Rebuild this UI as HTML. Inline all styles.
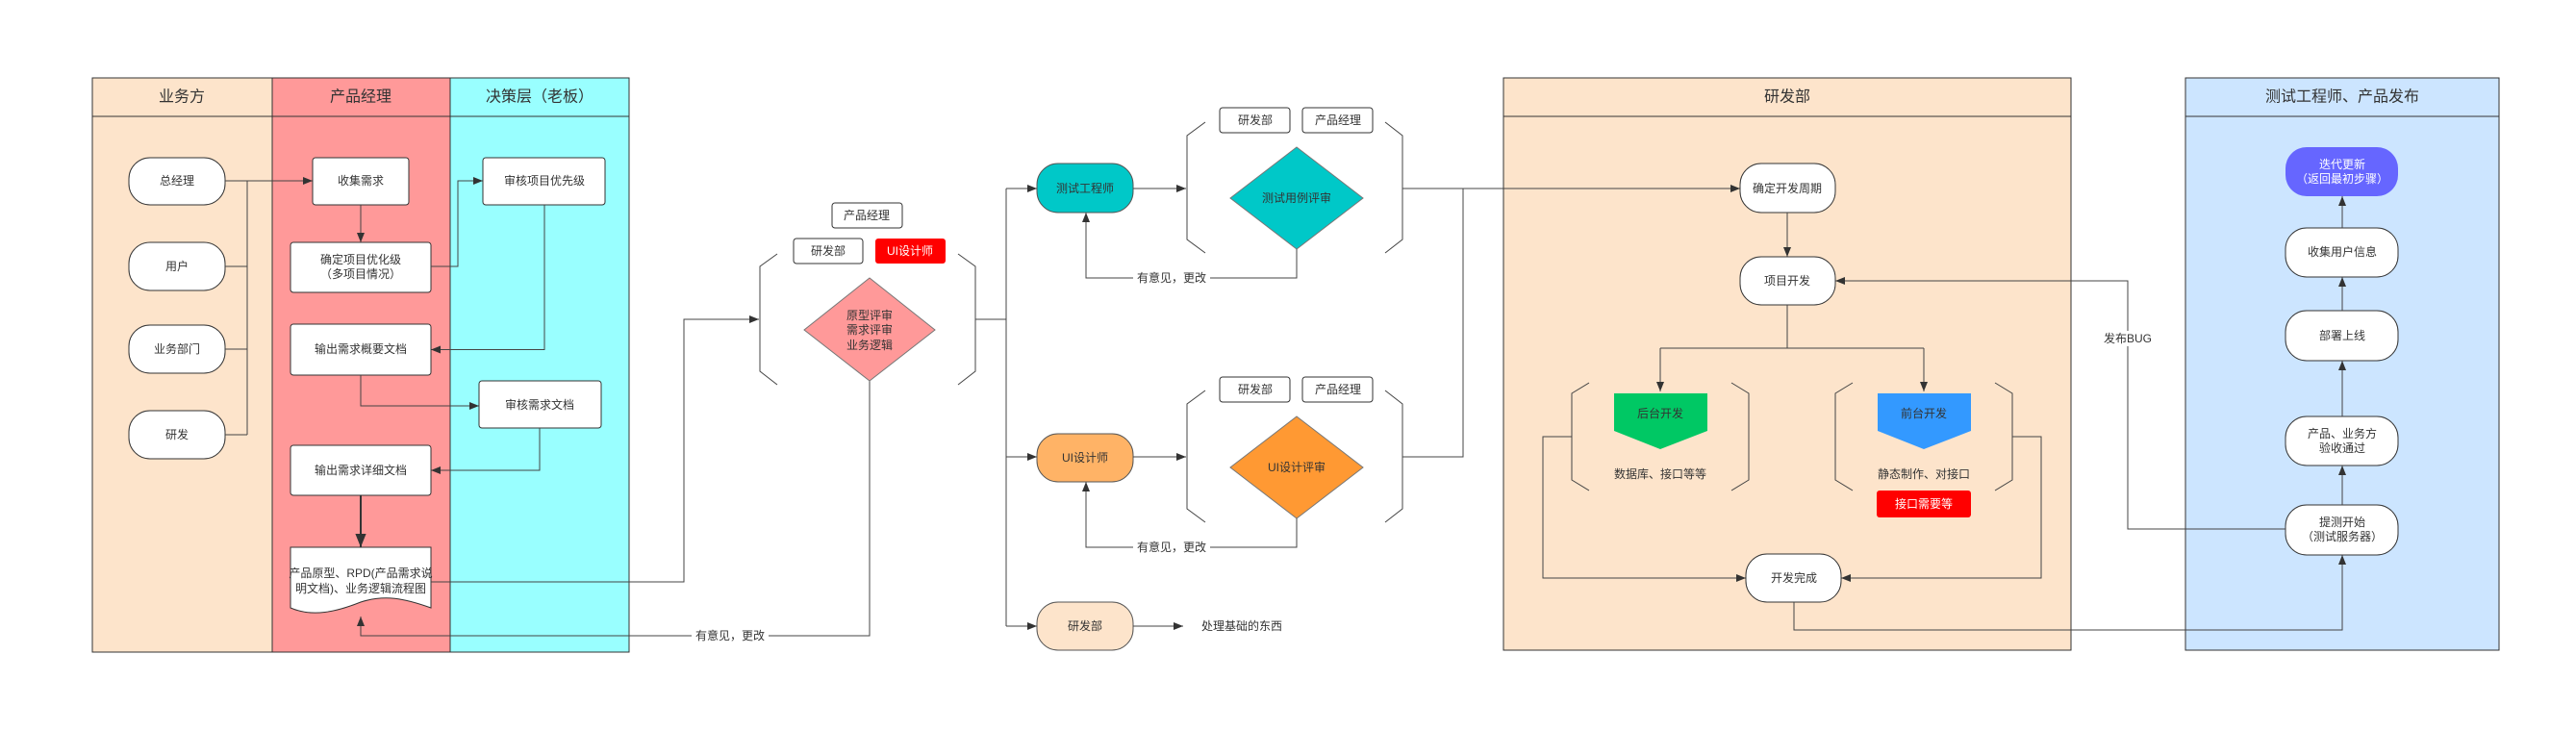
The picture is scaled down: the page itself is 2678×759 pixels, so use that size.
<!DOCTYPE html>
<html><head><meta charset="utf-8"><style>
html,body{margin:0;padding:0;background:#fff;}
svg{display:block;}
text{font-family:"Liberation Sans","Noto Sans CJK SC",sans-serif;fill:#333;font-size:12px;text-anchor:middle;dominant-baseline:central;}
.h{font-size:16px;}
.w{fill:#fff;}
.ln{fill:none;stroke:#444;stroke-width:1;}
.bx{fill:#fff;stroke:#333;stroke-width:1;}
</style></head><body>
<svg width="2678" height="759" viewBox="0 0 2678 759" xmlns="http://www.w3.org/2000/svg">
<defs>
<marker id="a" viewBox="0 0 10 10" refX="10" refY="5" markerWidth="10" markerHeight="10" markerUnits="userSpaceOnUse" orient="auto"><path d="M0,1 L10,5 L0,9 z" fill="#333"/></marker>
<marker id="b" viewBox="0 0 10 10" refX="10" refY="5" markerWidth="14" markerHeight="14" markerUnits="userSpaceOnUse" orient="auto"><path d="M0,1 L10,5 L0,9 z" fill="#333"/></marker>
</defs>

<!-- Left swimlanes -->
<rect x="96" y="81" width="187" height="597" fill="#fde4cb" stroke="#333"/>
<rect x="283" y="81" width="185" height="597" fill="#ff9999" stroke="#333"/>
<rect x="468" y="81" width="186" height="597" fill="#99ffff" stroke="#333"/>
<line x1="96" y1="121" x2="654" y2="121" stroke="#333"/>
<text class="h" x="189" y="101">业务方</text>
<text class="h" x="375" y="101">产品经理</text>
<text class="h" x="561" y="101">决策层（老板）</text>

<rect class="bx" x="134" y="164" width="100" height="49" rx="22"/><text x="184" y="188">总经理</text>
<rect class="bx" x="134" y="252" width="100" height="50" rx="22"/><text x="184" y="277">用户</text>
<rect class="bx" x="134" y="338" width="100" height="50" rx="22"/><text x="184" y="363">业务部门</text>
<rect class="bx" x="134" y="427" width="100" height="50" rx="22"/><text x="184" y="452">研发</text>
<path class="ln" d="M234,188 H325" marker-end="url(#a)"/>
<path class="ln" d="M257,188 V452 M234,277 H257 M234,363 H257 M234,452 H257"/>

<rect class="bx" x="325" y="164" width="100" height="49" rx="3"/><text x="375" y="188">收集需求</text>
<path class="ln" d="M375,213 V252" marker-end="url(#a)"/>
<rect class="bx" x="302" y="252" width="146" height="52" rx="3"/><text x="375" y="270">确定项目优化级</text><text x="375" y="285">（多项目情况）</text>
<path class="ln" d="M448,277 H476 V188 H502" marker-end="url(#a)"/>
<rect class="bx" x="502" y="164" width="127" height="49" rx="3"/><text x="566" y="188">审核项目优先级</text>
<path class="ln" d="M566,213 V363.5 H448" marker-end="url(#a)"/>
<rect class="bx" x="302" y="337" width="146" height="53" rx="3"/><text x="375" y="363">输出需求概要文档</text>
<path class="ln" d="M375,390 V422 H498" marker-end="url(#a)"/>
<rect class="bx" x="498" y="396" width="127" height="49" rx="3"/><text x="561" y="421">审核需求文档</text>
<path class="ln" d="M561,445 V489 H448" marker-end="url(#a)"/>
<rect class="bx" x="302" y="463" width="146" height="52" rx="3"/><text x="375" y="489">输出需求详细文档</text>
<path d="M375,515 V569" stroke="#333" stroke-width="2" fill="none" marker-end="url(#b)"/>
<path class="bx" d="M302,569 H448 V632 C420,622 400,618 375,626 C350,636 325,642 302,632 Z"/>
<text x="375" y="596">产品原型、RPD(产品需求说</text><text x="375" y="612">明文档)、业务逻辑流程图</text>
<path class="ln" d="M448,605 H711 V332 H789" marker-end="url(#a)"/>
<path class="ln" d="M904,396 V661 H375 V641" marker-end="url(#a)"/>
<rect x="719" y="653" width="80" height="16" fill="#fff"/><text x="759" y="661">有意见，更改</text>

<!-- Middle review -->
<rect class="bx" x="865" y="211" width="73" height="26" rx="3"/><text x="901" y="224">产品经理</text>
<rect class="bx" x="825" y="248" width="72" height="26" rx="3"/><text x="861" y="261">研发部</text>
<rect x="910" y="248" width="73" height="26" rx="3" fill="#ff0000"/><text class="w" x="946" y="261">UI设计师</text>
<path class="ln" d="M808,264 L790,277 V386 L808,400 M996,264 L1014,277 V386 L996,400"/>
<polygon points="904,289 972,343 904,396 836,343" fill="#ff9999" stroke="#777"/>
<text x="904" y="328">原型评审</text><text x="904" y="343">需求评审</text><text x="904" y="359">业务逻辑</text>
<path class="ln" d="M1014,332 H1046 M1046,196 V651"/>
<path class="ln" d="M1046,196 H1078" marker-end="url(#a)"/>
<path class="ln" d="M1046,475 H1078" marker-end="url(#a)"/>
<path class="ln" d="M1046,651 H1078" marker-end="url(#a)"/>

<rect x="1078" y="170" width="100" height="51" rx="22" fill="#00c8c8" stroke="#555"/><text x="1128" y="196">测试工程师</text>
<path class="ln" d="M1178,196 H1233" marker-end="url(#a)"/>
<rect class="bx" x="1268" y="112" width="73" height="26" rx="3"/><text x="1305" y="125">研发部</text>
<rect class="bx" x="1354" y="112" width="73" height="26" rx="3"/><text x="1391" y="125">产品经理</text>
<path class="ln" d="M1253,127 L1234,141 V249 L1253,263 M1440,127 L1458,141 V249 L1440,263"/>
<polygon points="1348,153 1417,206 1348,259 1279,206" fill="#00c8c8" stroke="#777"/>
<text x="1348" y="206">测试用例评审</text>
<path class="ln" d="M1348,259 V289 H1129 V221" marker-end="url(#a)"/>
<rect x="1178" y="281" width="80" height="16" fill="#fff"/><text x="1218" y="289">有意见，更改</text>

<rect x="1078" y="451" width="100" height="50" rx="22" fill="#ffb366" stroke="#555"/><text x="1128" y="476">UI设计师</text>
<path class="ln" d="M1178,475 H1233" marker-end="url(#a)"/>
<rect class="bx" x="1268" y="392" width="73" height="26" rx="3"/><text x="1305" y="405">研发部</text>
<rect class="bx" x="1354" y="392" width="73" height="26" rx="3"/><text x="1391" y="405">产品经理</text>
<path class="ln" d="M1253,406 L1234,420 V529 L1253,543 M1440,406 L1458,420 V529 L1440,543"/>
<polygon points="1348,433 1417,486 1348,539 1279,486" fill="#ff9933" stroke="#777"/>
<text x="1348" y="486">UI设计评审</text>
<path class="ln" d="M1348,539 V569 H1129 V501" marker-end="url(#a)"/>
<rect x="1178" y="561" width="80" height="16" fill="#fff"/><text x="1218" y="569">有意见，更改</text>

<rect x="1078" y="626" width="100" height="50" rx="22" fill="#fde4cb" stroke="#555"/><text x="1128" y="651">研发部</text>
<path class="ln" d="M1178,651 H1230" marker-end="url(#a)"/>
<text x="1291" y="651">处理基础的东西</text>

<!-- 研发部 lane -->
<rect x="1563" y="81" width="590" height="595" fill="#fde4cb" stroke="#333"/>
<line x1="1563" y1="121" x2="2153" y2="121" stroke="#333"/>
<text class="h" x="1858" y="101">研发部</text>
<rect x="2272" y="81" width="326" height="595" fill="#cce5ff" stroke="#333"/>
<line x1="2272" y1="121" x2="2598" y2="121" stroke="#333"/>
<text class="h" x="2435" y="101">测试工程师、产品发布</text>

<path class="ln" d="M1458,196 H1809" marker-end="url(#a)"/>
<path class="ln" d="M1458,475 H1521 V196"/>
<rect class="bx" x="1809" y="170" width="99" height="51" rx="22"/><text x="1858" y="196">确定开发周期</text>
<path class="ln" d="M1858,221 V267" marker-end="url(#a)"/>
<rect class="bx" x="1809" y="267" width="99" height="50" rx="22"/><text x="1858" y="292">项目开发</text>
<path class="ln" d="M1858,317 V362 M1726,362 H2000"/>
<path class="ln" d="M1726,362 V407" marker-end="url(#a)"/>
<path class="ln" d="M2000,362 V407" marker-end="url(#a)"/>

<path class="ln" d="M1652,398 L1634,409 V499 L1652,510 M1800,398 L1818,409 V499 L1800,510"/>
<polygon points="1678,409 1775,409 1775,448 1726,467 1678,448" fill="#00c864"/>
<text x="1726" y="430">后台开发</text>
<text x="1726" y="493">数据库、接口等等</text>
<path class="ln" d="M1926,398 L1908,409 V499 L1926,510 M2074,398 L2092,409 V499 L2074,510"/>
<polygon points="1952,409 2049,409 2049,448 2000,467 1952,448" fill="#3399ff"/>
<text x="2000" y="430">前台开发</text>
<text x="2000" y="493">静态制作、对接口</text>
<rect x="1951" y="510" width="98" height="28" rx="3" fill="#ff0000"/><text class="w" x="2000" y="524">接口需要等</text>

<path class="ln" d="M1634,454 H1604 V601 H1815" marker-end="url(#a)"/>
<path class="ln" d="M2092,454 H2122 V601 H1914" marker-end="url(#a)"/>
<rect class="bx" x="1815" y="576" width="99" height="50" rx="22"/><text x="1865" y="601">开发完成</text>
<path class="ln" d="M1865,626 V655 H2435 V577" marker-end="url(#a)"/>

<rect x="2376" y="153" width="117" height="51" rx="22" fill="#6666ff"/><text class="w" x="2435" y="171">迭代更新</text><text class="w" x="2435" y="186">（返回最初步骤）</text>
<rect class="bx" x="2376" y="237" width="117" height="51" rx="22"/><text x="2435" y="262">收集用户信息</text>
<rect class="bx" x="2376" y="323" width="117" height="52" rx="22"/><text x="2435" y="349">部署上线</text>
<rect class="bx" x="2376" y="433" width="117" height="51" rx="22"/><text x="2435" y="451">产品、业务方</text><text x="2435" y="466">验收通过</text>
<rect class="bx" x="2376" y="525" width="117" height="52" rx="22"/><text x="2435" y="543">提测开始</text><text x="2435" y="558">（测试服务器）</text>
<path class="ln" d="M2435,237 V204" marker-end="url(#a)"/>
<path class="ln" d="M2435,323 V288" marker-end="url(#a)"/>
<path class="ln" d="M2435,433 V375" marker-end="url(#a)"/>
<path class="ln" d="M2435,525 V484" marker-end="url(#a)"/>
<path class="ln" d="M2376,550 H2212 V292 H1908" marker-end="url(#a)"/>
<rect x="2185" y="344" width="54" height="16" fill="#fff"/><text x="2212" y="352">发布BUG</text>
</svg>
</body></html>
